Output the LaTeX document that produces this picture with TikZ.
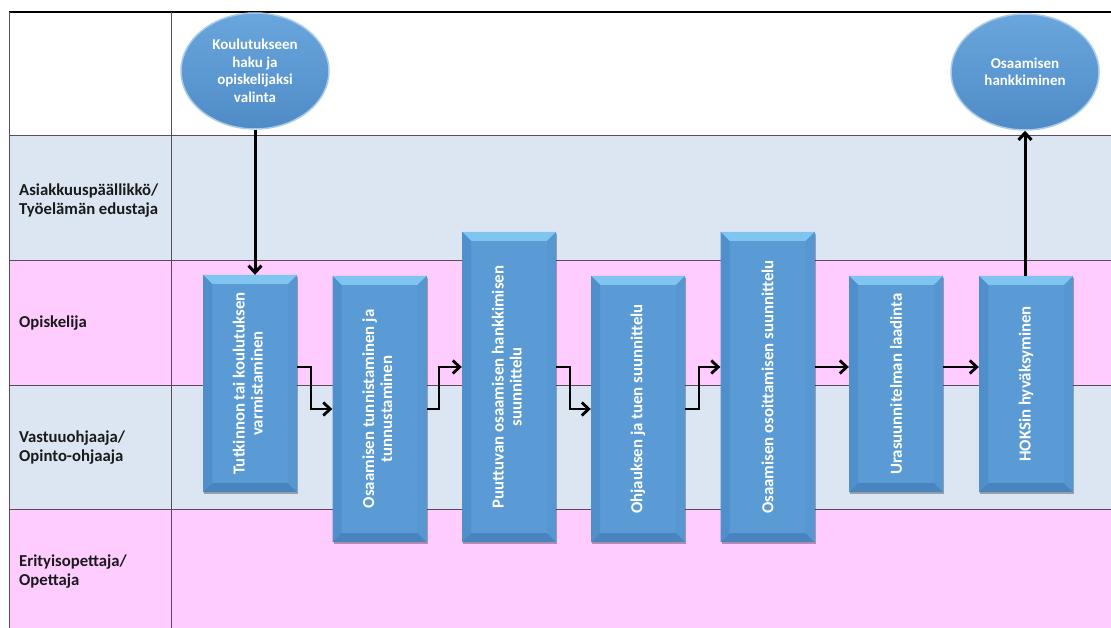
\documentclass[tikz,border=0pt]{standalone}
\usepackage{fontspec}
\setmainfont{Carlito}
\usetikzlibrary{shapes.geometric,arrows.meta,shadows}
\definecolor{pinkrow}{HTML}{FFCCFF}
\definecolor{bluerow}{HTML}{DCE6F2}
\definecolor{gridc}{HTML}{5A4A5C}
\definecolor{boxc}{HTML}{5B9BD5}
\definecolor{bevtop}{HTML}{80C4F0}
\definecolor{bevleft}{HTML}{4F8FCB}
\definecolor{bevright}{HTML}{5697D2}
\definecolor{bevbot}{HTML}{4A84BE}
\definecolor{labc}{HTML}{1A1A1A}
\definecolor{elltop}{HTML}{6AA6DD}
\definecolor{ellbot}{HTML}{4F8BC6}
\definecolor{ellrim}{HTML}{A8CBEA}
\begin{document}
\begin{tikzpicture}[x=1pt,y=-1pt,
  stepbox/.style={rectangle, inner sep=0pt, fill=boxc, text=white,
    font=\bfseries\fontsize{16.8}{18}\selectfont, minimum width=94pt,
    drop shadow={shadow xshift=1pt,shadow yshift=-2pt,opacity=0.3,fill=black},
    path picture={
      \fill[bevtop] (path picture bounding box.north west) -- (path picture bounding box.north east)
        -- ([shift={(-9pt,-9pt)}]path picture bounding box.north east) -- ([shift={(9pt,-9pt)}]path picture bounding box.north west) -- cycle;
      \fill[bevbot] (path picture bounding box.south west) -- (path picture bounding box.south east)
        -- ([shift={(-9pt,9pt)}]path picture bounding box.south east) -- ([shift={(9pt,9pt)}]path picture bounding box.south west) -- cycle;
      \fill[bevleft] (path picture bounding box.north west) -- ([shift={(9pt,-9pt)}]path picture bounding box.north west)
        -- ([shift={(9pt,9pt)}]path picture bounding box.south west) -- (path picture bounding box.south west) -- cycle;
      \fill[bevright] (path picture bounding box.north east) -- ([shift={(-9pt,-9pt)}]path picture bounding box.north east)
        -- ([shift={(-9pt,9pt)}]path picture bounding box.south east) -- (path picture bounding box.south east) -- cycle;
    }},
  ellnode/.style={ellipse, minimum width=148pt, minimum height=116pt, inner sep=0pt,
    top color=elltop, bottom color=ellbot, draw=ellrim, line width=1.5pt, text=white, align=center,
    font=\bfseries\fontsize{15}{17.5}\selectfont},
  lanelabel/.style={anchor=west, inner sep=0pt, align=left, text=labc,
    font=\bfseries\fontsize{16.7}{19}\selectfont},
  gridline/.style={draw=gridc, line width=1pt},
  arr/.style={line width=2.8pt, black, -{Straight Barb[length=7pt,width=13pt]}}
]
\useasboundingbox (0,0) rectangle (1111,628);
% lanes
\fill[white] (0,0) rectangle (1111,628);
\fill[bluerow] (9,136) rectangle (1111,261);
\fill[pinkrow] (9,261) rectangle (1111,385);
\fill[bluerow] (9,385) rectangle (1111,509);
\fill[pinkrow] (9,509) rectangle (1111,628);
\draw[black, line width=1.2pt] (9,12) -- (1111,12);
\foreach \yy in {136,261,385,509} \draw[gridline] (9,\yy) -- (1111,\yy);
\draw[gridline] (9,12) -- (9,628);
\draw[gridline] (171,12) -- (171,628);
% lane labels
\node[lanelabel] (lab1) at (19,201) {Asiakkuuspäällikkö/\\Työelämän edustaja};
\node[lanelabel] (lab2) at (19,323) {Opiskelija};
\node[lanelabel] (lab3) at (19,448) {Vastuuohjaaja/\\Opinto-ohjaaja};
\node[lanelabel] (lab4) at (19,572) {Erityisopettaja/\\Opettaja};
% ellipses
\node[ellnode] (e1) at (255,71) {Koulutukseen\\haku ja\\opiskelijaksi\\valinta};
\node[ellnode] (e2) at (1025,72) {Osaamisen\\hankkiminen};
% boxes
\node[stepbox, minimum height=217pt] (b1) at (250,383.5) {\rotatebox{90}{\begin{tabular}{@{}c@{}}Tutkinnon tai koulutuksen\\varmistaminen\end{tabular}}};
\node[stepbox, minimum height=266pt] (b2) at (379.5,409) {\rotatebox{90}{\begin{tabular}{@{}c@{}}Osaamisen tunnistaminen ja\\tunnustaminen\end{tabular}}};
\node[stepbox, minimum height=310pt] (b3) at (509,387) {\rotatebox{90}{\begin{tabular}{@{}c@{}}Puuttuvan osaamisen hankkimisen\\suunnittelu\end{tabular}}};
\node[stepbox, minimum height=266pt] (b4) at (638,409) {\rotatebox{90}{Ohjauksen ja tuen suunnittelu}};
\node[stepbox, minimum height=310pt] (b5) at (767.5,387) {\rotatebox{90}{Osaamisen osoittamisen suunnittelu}};
\node[stepbox, minimum height=216pt] (b6) at (896,384) {\rotatebox{90}{Urasuunnitelman laadinta}};
\node[stepbox, minimum height=216pt] (b7) at (1026,384) {\rotatebox{90}{HOKSin hyväksyminen}};
% connectors
\coordinate (hi) at (0,367);
\coordinate (lo) at (0,409);
\draw[arr, line width=3pt] (e1.south) -- (e1.south |- b1.north);
\draw[arr] (b1.east |- hi) -| (311,409) -- (b2.west |- lo);
\draw[arr] (b2.east |- lo) -| (439,367) -- (b3.west |- hi);
\draw[arr] (b3.east |- hi) -| (570,409) -- (b4.west |- lo);
\draw[arr] (b4.east |- lo) -| (699,367) -- (b5.west |- hi);
\draw[arr] (b5.east |- hi) -- (b6.west |- hi);
\draw[arr] (b6.east |- hi) -- (b7.west |- hi);
\draw[arr, line width=3pt] (b7.north -| e2.south) -- (e2.south);
\end{tikzpicture}
\end{document}
